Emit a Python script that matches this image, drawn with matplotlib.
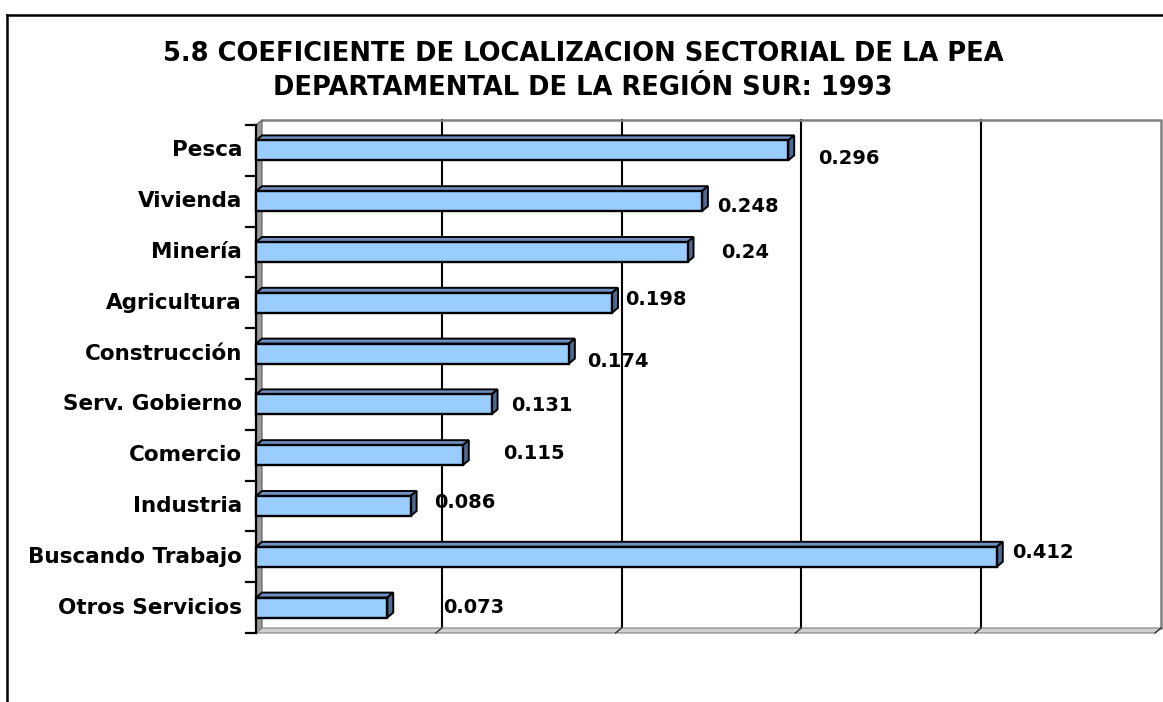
import matplotlib
matplotlib.use('Agg')
import matplotlib.pyplot as plt
from matplotlib.patches import Polygon, Rectangle
from matplotlib.lines import Line2D
from matplotlib.transforms import ScaledTranslation

# ---------------- data ----------------
categories = ['Pesca', 'Vivienda', 'Minería', 'Agricultura', 'Construcción',
              'Serv. Gobierno', 'Comercio', 'Industria', 'Buscando Trabajo',
              'Otros Servicios']
values = [0.296, 0.248, 0.24, 0.198, 0.174, 0.131, 0.115, 0.086, 0.412, 0.073]
title_lines = ['5.8 COEFICIENTE DE LOCALIZACION SECTORIAL DE LA PEA',
               'DEPARTAMENTAL DE LA REGIÓN SUR: 1993']
x_ticks = [0.1, 0.2, 0.3, 0.4, 0.5]
x_max = 0.5

# label placement offsets (pixels, right of bar end / down from bar centre)
label_dx = [30, 15, 34, 13, 18, 20, 40, 23, 15, 56]
label_dy = [8, 5, 1, -3, 8, 1, -2, -3, -4, 0]

# ---------------- figure ----------------
W, H = 1163, 702
DPI = 100
fig = plt.figure(figsize=(W / DPI, H / DPI), dpi=DPI)
fig.patch.set_facecolor('white')

L, R, T, B = 256, 1155, 125, 633   # front plot frame in pixels
ax = fig.add_axes([L / W, 1 - B / H, (R - L) / W, (B - T) / H])
n = len(categories)
ax.set_xlim(0, x_max)
ax.set_ylim(n - 0.5, -0.5)
ax.axis('off')

DX, DY = 6, 5   # 3-D depth offset in pixels
dxd = DX * x_max / (R - L)
dyd = DY * n / (B - T)
px_x = x_max / (R - L)

back = ax.transData + ScaledTranslation(DX / DPI, DY / DPI, fig.dpi_scale_trans)
y0, y1 = -0.5, n - 0.5

# back wall: gridlines and border
for v in x_ticks[:-1]:
    ax.add_line(Line2D([v, v], [y0, y1], color='black', lw=1.5,
                       transform=back, clip_on=False, zorder=1))
ax.add_line(Line2D([0, x_max, x_max], [y0, y0, y1], color='#808080', lw=1.8,
                   transform=back, clip_on=False, zorder=1))

# left wall
ax.add_patch(Polygon([(0, y0), (dxd, y0 - dyd), (dxd, y1 - dyd), (0, y1)],
                     closed=True, facecolor='#9A9A9A', edgecolor='#606060',
                     lw=0.8, clip_on=False, zorder=2))
# floor
ax.add_patch(Polygon([(0, y1), (dxd, y1 - dyd), (x_max + dxd, y1 - dyd), (x_max, y1)],
                     closed=True, facecolor='#D0D0D0', edgecolor='#808080',
                     lw=0.8, clip_on=False, zorder=2))
# small depth ticks at floor
for v in x_ticks:
    ax.add_line(Line2D([v, v + dxd], [y1, y1 - dyd], color='#303030', lw=1.0,
                       clip_on=False, zorder=2))

# left axis line and ticks
ax.add_line(Line2D([0, 0], [y0, y1], color='black', lw=1.6, clip_on=False, zorder=3))
for k in range(n + 1):
    yk = y0 + k
    ax.add_line(Line2D([-10 * px_x, 0], [yk, yk], color='black', lw=1.6,
                       clip_on=False, zorder=3))

# bars
h = 20 * n / (B - T)
front_c = '#99CCFF'
top_c = '#6F90C0'
side_c = '#4E6A92'
for i, v in enumerate(values):
    yt, yb = i - h / 2, i + h / 2
    ax.add_patch(Polygon([(0, yt), (dxd, yt - dyd), (v + dxd, yt - dyd), (v, yt)],
                         closed=True, facecolor=top_c, edgecolor='black', lw=1.4,
                         zorder=4, clip_on=False))
    ax.add_patch(Polygon([(v, yt), (v + dxd, yt - dyd), (v + dxd, yb - dyd), (v, yb)],
                         closed=True, facecolor=side_c, edgecolor='black', lw=1.4,
                         zorder=4, clip_on=False))
    ax.add_patch(Rectangle((0, yt), v, h, facecolor=front_c, edgecolor='black',
                           lw=1.7, zorder=5, clip_on=False))
    ax.annotate(str(v), xy=(v, i), xytext=(label_dx[i] * 0.72, -label_dy[i] * 0.72),
                textcoords='offset points', ha='left', va='center',
                fontsize=14, fontweight='bold', color='black', zorder=6,
                annotation_clip=False)
    ax.text(-14 * px_x, i, categories[i], ha='right', va='center',
            fontsize=15.5, fontweight='bold', color='black')

# title (two centred lines)
fig.text(583 / W, 1 - 54 / H, title_lines[0], ha='center', va='center',
         fontsize=18.5, fontweight='bold')
fig.text(583 / W, 1 - 88 / H, title_lines[1], ha='center', va='center',
         fontsize=18.5, fontweight='bold')

# outer frame (partially visible)
fig.add_artist(Line2D([7 / W, 7 / W], [0, 1 - 15 / H], color='black', lw=1.8,
                      transform=fig.transFigure))
fig.add_artist(Line2D([7 / W, 1], [1 - 15 / H, 1 - 15 / H], color='black', lw=1.8,
                      transform=fig.transFigure))

fig.savefig('out.png', dpi=DPI)
